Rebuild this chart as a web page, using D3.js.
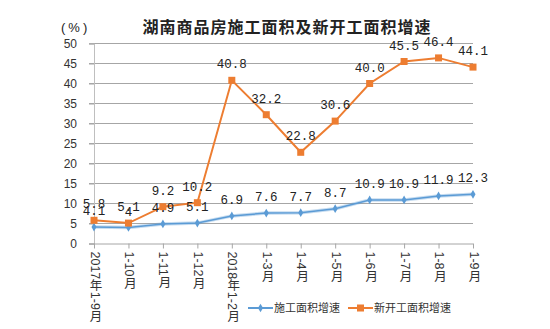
<!DOCTYPE html>
<html>
<head>
<meta charset="utf-8">
<script src="https://cdn.jsdelivr.net/npm/d3@7"></script>
<style>
  body { margin: 0; background: #fff; }
  svg { display: block; }
</style>
</head>
<body>
<svg width="550" height="329"></svg>
<script>
var categories = ["2017年1-9月", "1-10月", "1-11月", "1-12月", "2018年1-2月", "1-3月",
                  "1-4月", "1-5月", "1-6月", "1-7月", "1-8月", "1-9月"];
var shigong = [4.1, 4, 4.9, 5.1, 6.9, 7.6, 7.7, 8.7, 10.9, 10.9, 11.9, 12.3];
var xinkai = [5.8, 5.1, 9.2, 10.2, 40.8, 32.2, 22.8, 30.6, 40.0, 45.5, 46.4, 44.1];
var yTicks = [0, 5, 10, 15, 20, 25, 30, 35, 40, 45, 50];
var seriesNames = ["施工面积增速", "新开工面积增速"];

var svg = d3.select("svg");
var font = "'Liberation Sans', 'Noto Sans CJK SC', sans-serif";

var x = d3.scalePoint().domain(categories).range([94, 473]);
var y = d3.scaleLinear().domain([0, 50]).range([243.5, 43.5]);

// grid
svg.append("g")
    .selectAll("line")
    .data(yTicks.filter(function (d) { return d > 0; }))
    .enter().append("line")
    .attr("x1", 89).attr("x2", 473)
    .attr("y1", function (d) { return y(d); })
    .attr("y2", function (d) { return y(d); })
    .attr("stroke", "#a6a6a6")
    .attr("stroke-width", 1);

// y axis
var yAxis = svg.append("g")
    .attr("transform", "translate(94,0)")
    .call(d3.axisLeft(y).tickValues(yTicks).tickSize(5).tickPadding(12));
yAxis.select(".domain").attr("stroke", "#bfbfbf");
yAxis.selectAll(".tick line").attr("stroke", "#a6a6a6");
yAxis.selectAll("text")
    .style("font-family", font)
    .style("font-size", "12px")
    .attr("fill", "#333");

// x axis
var xAxis = svg.append("g")
    .attr("transform", "translate(0," + y(0) + ")")
    .call(d3.axisBottom(x).tickSize(5).tickSizeOuter(0));
xAxis.select(".domain").attr("stroke", "#a6a6a6").attr("d", "M89,0.5H473");
xAxis.selectAll(".tick line").attr("stroke", "#a6a6a6");
xAxis.selectAll("text")
    .attr("y", 0).attr("dy", null)
    .attr("transform", "translate(0,8)")
    .style("writing-mode", "vertical-rl")
    .style("text-anchor", "start")
    .style("font-family", font)
    .style("font-size", "12.5px")
    .attr("fill", "#333");

// lines
var line = d3.line()
    .x(function (d, i) { return x(categories[i]); })
    .y(function (d) { return y(d); });

svg.append("path")
    .datum(shigong)
    .attr("d", line)
    .attr("fill", "none")
    .attr("stroke", "#5b9bd5")
    .attr("stroke-opacity", 0.35)
    .attr("stroke-width", 3.5);

svg.append("path")
    .datum(shigong)
    .attr("d", line)
    .attr("fill", "none")
    .attr("stroke", "#5b9bd5")
    .attr("stroke-width", 1.5);

svg.append("path")
    .datum(xinkai)
    .attr("d", line)
    .attr("fill", "none")
    .attr("stroke", "#ed7d31")
    .attr("stroke-width", 2);

// markers
svg.append("g")
    .selectAll("path")
    .data(shigong)
    .enter().append("path")
    .attr("d", d3.symbol().type(d3.symbolDiamond).size(22))
    .attr("transform", function (d, i) {
        return "translate(" + x(categories[i]) + "," + y(d) + ")";
    })
    .attr("fill", "#5b9bd5");

svg.append("g")
    .selectAll("rect")
    .data(xinkai)
    .enter().append("rect")
    .attr("x", function (d, i) { return x(categories[i]) - 3.5; })
    .attr("y", function (d) { return y(d) - 3.5; })
    .attr("width", 7).attr("height", 7)
    .attr("fill", "#ed7d31");

// data labels (they overlap at the first two points, like the original)
var labelFont = "'Liberation Mono', 'DejaVu Sans Mono', monospace";
[[shigong, false], [xinkai, true]].forEach(function (s) {
    svg.append("g")
        .selectAll("text")
        .data(s[0])
        .enter().append("text")
        .attr("x", function (d, i) { return x(categories[i]); })
        .attr("y", function (d) { return y(d) - 12; })
        .attr("text-anchor", "middle")
        .style("font-family", labelFont)
        .style("font-size", "12.5px")
        .attr("fill", "#222")
        .text(function (d) { return s[1] ? d.toFixed(1) : String(d); });
});

// title
svg.append("text")
    .attr("x", 287).attr("y", 33)
    .attr("text-anchor", "middle")
    .style("font-family", font)
    .style("font-size", "16px")
    .style("font-weight", "bold")
    .style("letter-spacing", "1px")
    .attr("fill", "#222")
    .text("湖南商品房施工面积及新开工面积增速");

svg.append("text")
    .attr("x", 61).attr("y", 32)
    .style("font-family", font)
    .style("font-size", "13px")
    .style("letter-spacing", "3px")
    .attr("fill", "#222")
    .text("(%)");

// legend
var legend = svg.append("g");
var legendItems = [
    {name: seriesNames[0], color: "#5b9bd5", x: 248, marker: "diamond"},
    {name: seriesNames[1], color: "#ed7d31", x: 348, marker: "square"}
];
legendItems.forEach(function (d) {
    var g = legend.append("g").attr("transform", "translate(" + d.x + ",308)");
    g.append("line").attr("x1", 0).attr("x2", 25).attr("stroke", d.color).attr("stroke-width", 2);
    if (d.marker === "square") {
        g.append("rect").attr("x", 9).attr("y", -3.5).attr("width", 7).attr("height", 7).attr("fill", d.color);
    } else {
        g.append("path").attr("d", d3.symbol().type(d3.symbolDiamond).size(22))
            .attr("transform", "translate(12.5,0)").attr("fill", d.color);
    }
    g.append("text").attr("x", 26).attr("y", 4)
        .style("font-family", font)
        .style("font-size", "11px")
        .attr("fill", "#333")
        .text(d.name);
});
</script>
</body>
</html>
